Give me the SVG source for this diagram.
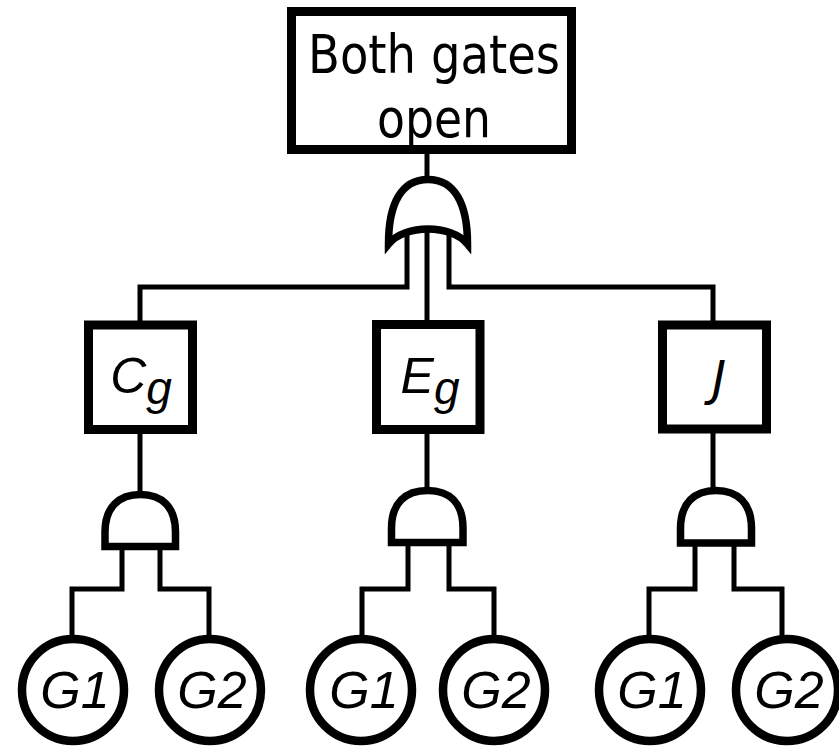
<svg xmlns="http://www.w3.org/2000/svg" width="839" height="747" viewBox="0 0 839 747">
<style>
.box{fill:#fff;stroke:#000;stroke-width:9}
.gate{fill:#fff;stroke:#000;stroke-width:7.5;stroke-linejoin:miter}
.leaf{fill:#fff;stroke:#000;stroke-width:8.5}
.wire{fill:none;stroke:#000;stroke-width:5}
.lbl{font-family:"Liberation Sans",Arial,sans-serif;font-style:italic;fill:#000;text-anchor:middle}
.top{font-family:"DejaVu Sans",Verdana,sans-serif;font-size:54px;fill:#000;text-anchor:middle}
</style>
<rect width="839" height="747" fill="#fff"/>
<g id="connectors">
<line class="wire" x1="427" y1="150" x2="427" y2="180"/>
<polyline class="wire" points="407,220 407,287 140,287 140,322"/>
<line class="wire" x1="427" y1="215" x2="427" y2="322"/>
<polyline class="wire" points="449,220 449,287 713,287 713,322"/>
<line class="wire" x1="140" y1="430" x2="140" y2="494"/>
<line class="wire" x1="427" y1="430" x2="427" y2="490"/>
<line class="wire" x1="713" y1="430" x2="713" y2="490"/>
<polyline class="wire" points="122,545 122,589 72,589 72,637"/>
<polyline class="wire" points="160,545 160,589 209,589 209,637"/>
<polyline class="wire" points="408,541 408,589 362,589 362,637"/>
<polyline class="wire" points="449,541 449,589 494,589 494,637"/>
<polyline class="wire" points="695,541 695,589 649,589 649,637"/>
<polyline class="wire" points="734,541 734,589 782,589 782,637"/>
</g>
<g id="top">
<rect class="box" x="291.5" y="11.5" width="280" height="138"/>
<text class="top" x="434" y="73" textLength="252" lengthAdjust="spacingAndGlyphs">Both gates</text>
<text class="top" x="434" y="137" textLength="114" lengthAdjust="spacingAndGlyphs">open</text>
</g>
<g id="or-gate">
<path class="gate" d="M388.5,244 C388.5,204 401,179.5 428,179.5 C455,179.5 467.5,204 467.5,244 C451,224 405,224 388.5,244 Z"/>
</g>
<g id="Cg">
<rect class="box" x="88.5" y="325" width="104" height="104.5"/>
<text class="lbl" x="141" y="393" font-size="50">C<tspan font-size="46" dy="11">g</tspan></text>
</g>
<g id="Eg">
<rect class="box" x="376.5" y="324.5" width="103.5" height="105"/>
<text class="lbl" x="430" y="393" font-size="50">E<tspan font-size="46" dy="11">g</tspan></text>
</g>
<g id="J">
<rect class="box" x="662.5" y="325" width="104" height="104"/>
<text x="719" y="395" font-family="DejaVu Sans, Verdana, sans-serif" font-style="italic" font-size="48" text-anchor="middle">J</text>
</g>
<g id="and-Cg">
<path class="gate" d="M105,546.5 L105,532 C105,507 119,494.5 140.5,494.5 C162,494.5 175.5,507 175.5,532 L175.5,546.5 Z"/>
</g>
<g id="and-Eg">
<path class="gate" d="M391.5,542.5 L391.5,528 C391.5,503 405.5,490.5 427.5,490.5 C449.5,490.5 463,503 463,528 L463,542.5 Z"/>
</g>
<g id="and-J">
<path class="gate" d="M680.5,543 L680.5,528.5 C680.5,503 694.5,490.5 716,490.5 C737.5,490.5 751.5,503 751.5,528.5 L751.5,543 Z"/>
</g>
<g id="Cg-G1"><circle class="leaf" cx="73" cy="690" r="51"/><text class="lbl" x="75" y="708" font-size="52">G1</text></g>
<g id="Cg-G2"><circle class="leaf" cx="210" cy="690" r="51"/><text class="lbl" x="212" y="708" font-size="52">G2</text></g>
<g id="Eg-G1"><circle class="leaf" cx="361" cy="690" r="51"/><text class="lbl" x="364" y="708" font-size="52">G1</text></g>
<g id="Eg-G2"><circle class="leaf" cx="494" cy="690" r="51"/><text class="lbl" x="496" y="708" font-size="52">G2</text></g>
<g id="J-G1"><circle class="leaf" cx="650" cy="690" r="51"/><text class="lbl" x="652" y="708" font-size="52">G1</text></g>
<g id="J-G2"><circle class="leaf" cx="787" cy="690" r="51"/><text class="lbl" x="789" y="708" font-size="52">G2</text></g>
</svg>
